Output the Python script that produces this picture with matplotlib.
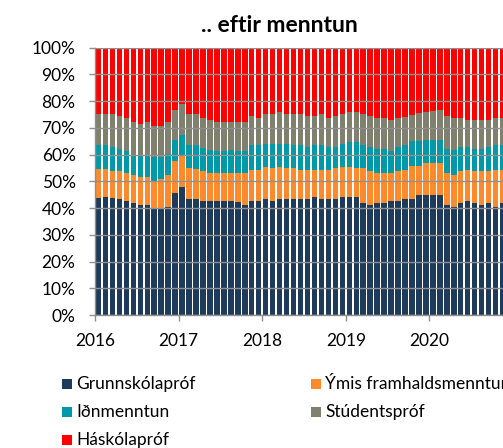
import matplotlib
matplotlib.use('Agg')
import matplotlib.pyplot as plt
import numpy as np
from matplotlib.patches import Rectangle

plt.rcParams['font.family'] = ['Lato', 'DejaVu Sans']

years = ['2016', '2017', '2018', '2019', '2020']
series_names = ['Grunnskólapróf', 'Ýmis framhaldsmenntun', 'Iðnmenntun',
                'Stúdentspróf', 'Háskólapróf']

# monthly shares (%), Jan 2016 onwards
grunnskolaprof = [43.6, 44.2, 43.6, 43.5, 42.7, 42.0, 41.2, 41.2, 39.9, 39.9, 40.5, 45.6,
                  47.8, 43.5, 43.5, 42.7, 42.7, 42.7, 42.7, 42.7, 42.1, 41.2, 42.7, 42.7,
                  43.5, 42.7, 43.5, 43.5, 43.5, 43.5, 43.5, 44.1, 43.5, 43.5, 43.5, 44.1,
                  44.1, 44.1, 42.0, 41.2, 42.0, 42.0, 42.7, 42.7, 43.5, 43.5, 44.8, 44.8,
                  44.8, 44.8, 41.2, 40.5, 42.0, 42.7, 42.0, 41.2, 42.0, 40.5, 42.0]
ymis_framhald = [11.2, 10.4, 10.4, 10.3, 10.5, 10.3, 10.5, 10.3, 10.3, 10.8, 11.8, 11.9,
                 11.8, 11.6, 11.1, 11.1, 10.5, 10.4, 10.4, 10.4, 10.9, 12.0, 11.7, 11.7,
                 11.9, 12.4, 11.9, 11.6, 11.6, 10.9, 10.9, 10.3, 10.9, 10.9, 11.6, 11.3,
                 11.3, 11.0, 13.1, 12.6, 11.2, 11.0, 10.5, 11.1, 10.9, 12.4, 11.1, 11.9,
                 12.1, 12.1, 11.8, 11.8, 11.8, 11.7, 11.8, 12.6, 11.8, 13.9, 12.4]
idnmenntun = [8.7, 8.9, 8.8, 8.3, 8.0, 7.6, 8.1, 8.3, 8.9, 8.4, 8.1, 8.1,
              7.6, 8.4, 8.9, 8.7, 8.7, 8.1, 8.1, 8.8, 8.2, 8.0, 9.1, 9.1,
              8.7, 9.0, 8.7, 9.0, 8.4, 9.1, 8.4, 9.1, 9.1, 8.4, 7.7, 8.7,
              9.5, 9.8, 8.4, 9.0, 8.9, 9.1, 8.0, 9.0, 9.1, 9.1, 9.1, 8.9,
              8.7, 8.7, 9.1, 9.6, 9.0, 8.4, 8.3, 8.3, 9.0, 9.1, 9.1]
studentsprof = [11.7, 11.7, 12.4, 12.5, 12.6, 12.4, 11.8, 12.3, 11.6, 11.6, 11.7, 11.1,
                11.7, 11.7, 11.7, 11.3, 11.1, 11.1, 11.1, 10.4, 11.1, 11.1, 11.1, 10.3,
                11.1, 11.1, 11.9, 11.1, 11.7, 11.7, 11.8, 11.1, 11.7, 11.0, 11.8, 11.1,
                11.1, 11.1, 11.7, 11.8, 11.7, 11.7, 11.8, 11.0, 10.7, 9.8, 10.5, 10.4,
                10.6, 11.1, 12.5, 11.9, 11.0, 10.2, 10.9, 10.9, 10.2, 10.3, 10.3]
haskolaprof = [24.8, 24.8, 24.8, 25.4, 26.2, 27.7, 28.4, 27.9, 29.3, 29.3, 27.9, 23.3,
               21.1, 24.8, 24.8, 26.2, 27.0, 27.7, 27.7, 27.7, 27.7, 27.7, 25.4, 26.2,
               24.8, 24.8, 24.0, 24.8, 24.8, 24.8, 25.4, 25.4, 24.8, 26.2, 25.4, 24.8,
               24.0, 24.0, 24.8, 25.4, 26.2, 26.2, 27.0, 26.2, 25.8, 25.2, 24.5, 24.0,
               23.8, 23.3, 25.4, 26.2, 26.2, 27.0, 27.0, 27.0, 27.0, 26.2, 26.2]

colors = ['#1F3B5C', '#FF8A2B', '#0099AA', '#80806F', '#FF0000']

W, H = 503, 448
fig = plt.figure(figsize=(W / 100, H / 100), dpi=100)
ax = fig.add_axes([95 / W, 1 - 315 / H, 418 / W, (315 - 47.7) / H])

series = [grunnskolaprof, ymis_framhald, idnmenntun, studentsprof, haskolaprof]
n = len(grunnskolaprof)
xs = np.arange(n) + 0.5
bottom = np.zeros(n)
for vals, c, name in zip(series, colors, series_names):
    vals = np.array(vals, dtype=float)
    ax.bar(xs, vals, bottom=bottom, width=0.78, color=c, linewidth=0,
           label=name, zorder=2)
    bottom += vals

ax.set_xlim(0, 60)
ax.set_ylim(0, 100)
ax.set_yticks(np.arange(0, 101, 10))
ax.set_yticklabels([f'{v}%' for v in range(0, 101, 10)])
ax.set_xticks(np.arange(len(years)) * 12)
ax.set_xticklabels(years)

gcol = '#8f8f8f'
ax.yaxis.grid(True, color=gcol, linewidth=1.0, zorder=3)
ax.set_axisbelow(False)
for s in ['top', 'right']:
    ax.spines[s].set_visible(False)
for s in ['left', 'bottom']:
    ax.spines[s].set_color(gcol)
    ax.spines[s].set_linewidth(1.0)
ax.tick_params(axis='y', direction='out', length=4, width=1, color=gcol,
               pad=10, labelsize=12.5, labelcolor='black')
ax.tick_params(axis='x', direction='out', length=4, width=1, color=gcol,
               pad=9, labelsize=12.5, labelcolor='black')

fig.text(279 / W, 1 - 25 / H, '.. eftir menntun', ha='center', va='center',
         fontsize=16.5, fontweight='bold')

# legend, laid out row-wise like the original
leg_pos = [(62, 384), (311, 384), (62, 412), (311, 412), (62, 440)]
for (px, py), c, name in zip(leg_pos, colors, series_names):
    fig.add_artist(Rectangle((px / W, 1 - (py + 4.7) / H), 9.5 / W, 9.5 / H,
                             transform=fig.transFigure, facecolor=c,
                             edgecolor='none'))
    fig.text((px + 14) / W, 1 - py / H, name, ha='left', va='center',
             fontsize=12.5)

fig.savefig('out.png', dpi=100)
